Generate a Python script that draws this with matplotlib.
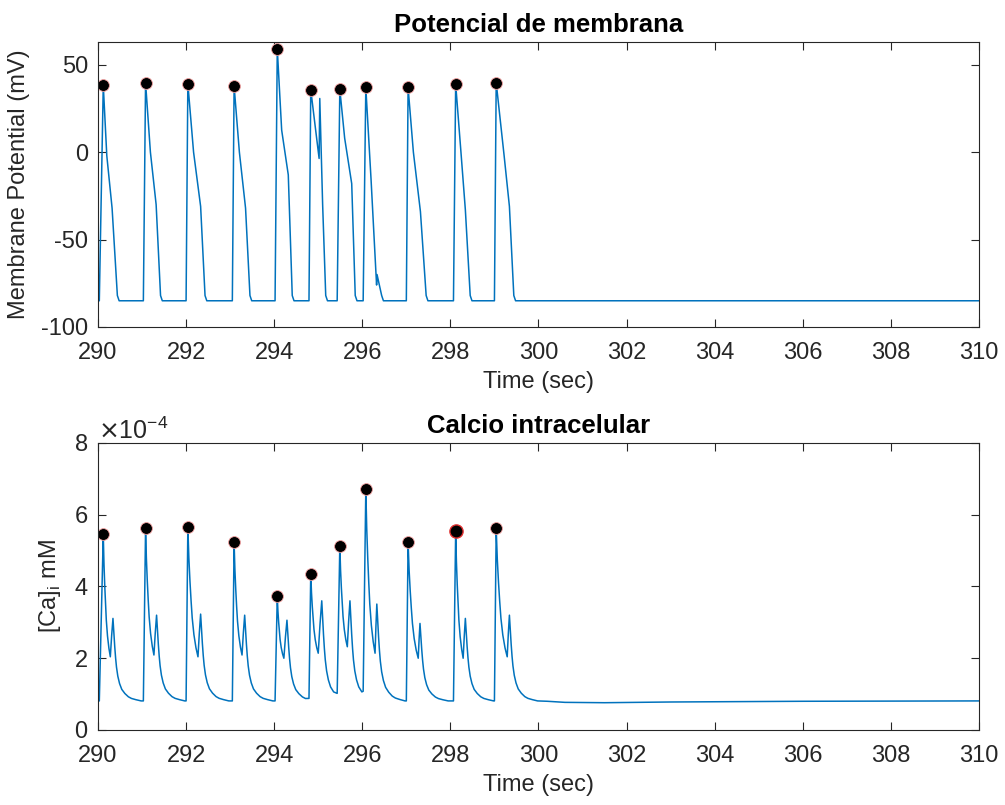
import numpy as np
import matplotlib.pyplot as plt
from matplotlib.ticker import ScalarFormatter

plt.rcParams['font.family'] = ['Liberation Sans', 'DejaVu Sans']
plt.rcParams['axes.unicode_minus'] = False

# potencial de membrana: un potencial de accion por latido
v_rest = -85.0
ap_onset_t = [290.03, 291.03, 292.00, 293.05, 294.02, 294.79, 295.43, 296.02, 297.00, 298.07, 299.00]
ap_peak_t = [290.12, 291.08, 292.04, 293.09, 294.07, 294.83, 295.49, 296.08, 297.04, 298.12, 299.04]
ap_peak_v = [38.3, 39.8, 39.2, 37.9, 59.2, 35.8, 36.0, 37.0, 37.0, 38.9, 39.8]
ap_knee_t = [290.20, 291.19, 292.17, 293.21, 294.17, 294.93, 295.60, 296.20, 297.16, 298.24, 299.22]
ap_knee_v = [-2, 0, 0, 0, 12.6, 15, 8, -16, 0, 0, -2]
ap_shoulder_t = [290.32, 291.32, 292.33, 293.35, 294.32, 295.02, 295.76, 296.31, 297.32, 298.34, 299.34]
ap_shoulder_v = [-32, -30, -31, -32, -13, -3.6, -18, -69, -34, -33, -31]
ap_end_t = [290.44, 291.42, 292.43, 293.45, 294.41, 295.17, 295.84, 296.44, 297.45, 298.45, 299.44]
# detalles raros: espiga extra en el 6o y muesca en el 8o
spike6_t = [295.035, 295.10]
spike6_v = [30.7, -30]
notch8_t = [296.325, 296.335]
notch8_v = [-76, -70]

# calcio intracelular (x1e-4 mM)
ca_base = 0.81
ca_pre_v = [0.81, 0.81, 0.81, 0.81, 0.81, 0.88, 1.02, 1.08, 0.81, 0.81, 0.81]
ca_peak_v = [5.45, 5.62, 5.66, 5.23, 3.73, 4.36, 5.13, 6.71, 5.23, 5.54, 5.62]
ca_trough_t = [290.28, 291.27, 292.27, 293.27, 294.22, 295.00, 295.66, 296.29, 297.27, 298.29, 299.29]
ca_trough_v = [2.04, 2.09, 2.04, 2.09, 2.00, 2.14, 2.32, 2.14, 2.00, 2.00, 2.04]
ca_sec_t = [290.34, 291.33, 292.33, 293.33, 294.29, 295.08, 295.72, 296.33, 297.31, 298.34, 299.34]
ca_sec_v = [3.11, 3.20, 3.23, 3.20, 3.06, 3.60, 3.60, 3.51, 2.97, 3.11, 3.20]
drop_tf = [0.10, 0.21, 0.32, 0.43, 0.60, 0.80, 1.0]
drop_vf = [0.76, 0.58, 0.43, 0.30, 0.17, 0.07, 0.0]
rise_tf = [0.5]
rise_vf = [0.55]
decay_dt = [0.02, 0.04, 0.06, 0.08, 0.11, 0.15, 0.20, 0.27, 0.35, 0.42, 0.52, 0.64]
decay_fr = [0.82, 0.66, 0.52, 0.41, 0.30, 0.21, 0.14, 0.09, 0.05, 0.03, 0.015, 0.0]
ca_tail_t = [300.2, 300.6, 301.5, 303.0, 306.0, 310.0]
ca_tail_v = [0.80, 0.77, 0.76, 0.78, 0.80, 0.81]

n = len(ap_onset_t)

t_v = [290.0]
v = [v_rest]
for i in range(n):
    t_v += [ap_onset_t[i], ap_peak_t[i], ap_knee_t[i], ap_shoulder_t[i]]
    v += [v_rest, ap_peak_v[i], ap_knee_v[i], ap_shoulder_v[i]]
    if i == 5:
        t_v += spike6_t; v += spike6_v
    if i == 7:
        t_v += notch8_t; v += notch8_v
    t_v += [ap_end_t[i], ap_end_t[i] + 0.04]
    v += [-82, v_rest]
t_v.append(310.0); v.append(v_rest)

t_c = [290.0]
c = [ca_base]
for i in range(n):
    t_c += [ap_onset_t[i], ap_peak_t[i]]
    c += [ca_pre_v[i], ca_peak_v[i]]
    for ft, fv in zip(drop_tf, drop_vf):
        t_c.append(ap_peak_t[i] + ft * (ca_trough_t[i] - ap_peak_t[i]))
        c.append(ca_trough_v[i] + fv * (ca_peak_v[i] - ca_trough_v[i]))
    for ft, fv in zip(rise_tf, rise_vf):
        t_c.append(ca_trough_t[i] + ft * (ca_sec_t[i] - ca_trough_t[i]))
        c.append(ca_trough_v[i] + fv * (ca_sec_v[i] - ca_trough_v[i]))
    t_c.append(ca_sec_t[i]); c.append(ca_sec_v[i])
    for dt, fr in zip(decay_dt, decay_fr):
        tt = ca_sec_t[i] + dt
        if i < n - 1 and tt >= ap_onset_t[i + 1]:
            break
        t_c.append(tt)
        c.append(ca_base + fr * (ca_sec_v[i] - ca_base))
t_c += ca_tail_t
c += ca_tail_v
c = np.array(c) * 1e-4
ca_marks = np.array(ca_peak_v) * 1e-4

blue = '#0072BD'
dark = '#262626'

fig = plt.figure(figsize=(10.05, 8.05), dpi=100)
ax1 = fig.add_axes([0.0975, 0.5938, 0.8766, 0.354])
ax2 = fig.add_axes([0.0975, 0.0932, 0.8766, 0.3565])

ax1.plot(t_v, v, color=blue, lw=1.1)
ax1.plot(ap_peak_t, ap_peak_v, 'o', ms=8.5, mfc='k', mec='#f3a0a0', mew=0.6)
ax1.set_ylim(-100, 63)
ax1.set_yticks([-100, -50, 0, 50])
ax1.set_ylabel('Membrane Potential (mV)', fontsize=17, labelpad=8)
ax1.set_title('Potencial de membrana', fontsize=18.5, fontweight='bold', pad=7)

ax2.plot(t_c, c, color=blue, lw=1.1)
ax2.plot(ap_peak_t, ca_marks, 'o', ms=8.5, mfc='k', mec='#f3a0a0', mew=0.6)
ax2.plot(ap_peak_t[9], ca_marks[9], 'o', ms=9.5, mfc='k', mec='#e03030', mew=1.0)
ax2.set_ylim(0, 8e-4)
ax2.set_yticks([0, 2e-4, 4e-4, 6e-4, 8e-4])
fmt = ScalarFormatter(useMathText=True)
fmt.set_powerlimits((0, 0))
ax2.yaxis.set_major_formatter(fmt)
ax2.yaxis.get_offset_text().set_fontsize(18)
ax2.yaxis.get_offset_text().set_color(dark)
ax2.set_ylabel(r'[Ca]$_\mathregular{i}$ mM', fontsize=17, labelpad=8)
ax2.set_title('Calcio intracelular', fontsize=18.5, fontweight='bold', pad=7)

for ax in (ax1, ax2):
    ax.set_xlim(290, 310)
    ax.set_xticks(np.arange(290, 311, 2))
    ax.set_xlabel('Time (sec)', fontsize=17, labelpad=5, color=dark)
    ax.yaxis.label.set_color(dark)
    ax.tick_params(direction='in', length=6, width=0.8, labelsize=17,
                   colors=dark, top=True, right=True, pad=11)
    ax.tick_params(axis='y', pad=7)
    for s in ax.spines.values():
        s.set_color(dark)
        s.set_linewidth(0.8)

fig.savefig('out.png', dpi=100)
